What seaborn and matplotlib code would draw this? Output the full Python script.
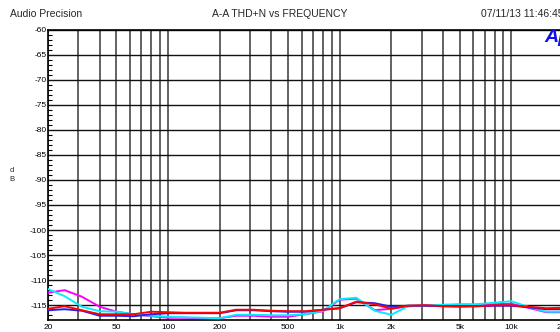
import numpy as np
import pandas as pd
import matplotlib
matplotlib.use("Agg")
import matplotlib.pyplot as plt
from matplotlib.ticker import FixedLocator, NullFormatter, LogLocator
import seaborn as sns

# 1/3-octave sweep frequencies (Hz)
freq = [20, 25, 31.5, 40, 50, 63, 80, 100, 125, 160, 200, 250, 315, 400, 500,
        630, 800, 1000, 1250, 1600, 2000, 2500, 3150, 4000, 5000, 6300, 8000,
        10000, 12500, 16000, 20000]

# THD+N readings (dB) per channel trace
red = [-115.7, -115.2, -116.0, -116.8, -116.8, -116.8, -116.3, -116.4, -116.5, -116.5,
       -116.5, -115.9, -115.9, -116.1, -116.2, -116.2, -115.9, -115.6, -114.3, -114.8,
       -115.7, -115.1, -115.0, -115.2, -115.3, -115.2, -115.0, -115.0, -115.3, -115.6, -115.5]
blue = [-116.0, -115.8, -116.1, -117.1, -117.1, -117.2, -116.8, -116.6, -116.6, -116.6,
        -116.6, -116.0, -116.0, -116.2, -116.3, -116.3, -115.9, -115.6, -114.4, -114.6,
        -115.3, -115.1, -115.1, -115.2, -115.2, -115.2, -115.1, -115.1, -115.4, -115.8, -115.8]
magenta = [-112.5, -112.0, -113.3, -115.3, -116.3, -116.8, -117.2, -117.5, -117.5, -117.6,
           -117.6, -117.1, -117.1, -117.3, -117.3, -116.8, -116.2, -113.9, -113.7, -116.0,
           -115.7, -115.2, -115.1, -115.0, -114.9, -114.9, -114.8, -114.7, -115.5, -116.4, -116.4]
cyan = [-111.75, -113.2, -115.3, -116.2, -116.3, -116.8, -117.1, -117.3, -117.4, -117.5,
        -117.6, -116.9, -116.9, -117.0, -117.0, -116.8, -116.1, -113.8, -113.5, -116.1,
        -116.9, -115.2, -115.1, -114.9, -114.8, -114.8, -114.5, -114.2, -115.3, -116.3, -116.3]

series_names = ["magenta", "cyan", "blue", "red"]
series_values = [magenta, cyan, blue, red]
colors = {"magenta": "#ff00ff", "cyan": "#00f0ff", "blue": "#2020f0", "red": "#ff0000"}

xtick_vals = [20, 50, 100, 200, 500, 1000, 2000, 5000, 10000, 20000]
xtick_labels = ["20", "50", "100", "200", "500", "1k", "2k", "5k", "10k", "20k"]
ytick_vals = list(range(-60, -116, -5))

rows = []
for name, vals in zip(series_names, series_values):
    for f, v in zip(freq, vals):
        rows.append({"freq": f, "level": v, "trace": name})
df = pd.DataFrame(rows)

sns.set_style("white")
plt.rcParams["font.family"] = ["Liberation Sans", "DejaVu Sans"]

fig = plt.figure(figsize=(5.6, 3.32), dpi=100)
ax = fig.add_axes([48 / 560, 1 - 319.5 / 332, (563 - 48) / 560, (319.5 - 29.5) / 332])

sns.lineplot(data=df, x="freq", y="level", hue="trace", hue_order=series_names,
             palette=colors, linewidth=1.4, legend=False, ax=ax, zorder=3)

ax.set_xscale("log")
ax.set_xlim(20, 20000)
ax.set_ylim(-117.85, -60)

# Grid: every 1-9 multiple on the frequency axis, 5 dB steps on the level axis
ax.xaxis.set_major_locator(FixedLocator(xtick_vals))
ax.set_xticklabels(xtick_labels)
ax.xaxis.set_minor_locator(LogLocator(base=10, subs=np.arange(1, 10)))
ax.xaxis.set_minor_formatter(NullFormatter())
ax.set_yticks(ytick_vals)
ax.set_yticklabels([str(v) for v in ytick_vals])
ax.yaxis.set_minor_locator(FixedLocator(np.arange(-60, -118, -1)))

ax.grid(True, which="both", axis="x", color="#383838", linewidth=1.1)
ax.grid(True, which="major", axis="y", color="#111111", linewidth=1.0)

ax.tick_params(axis="x", which="both", length=0, labelsize=6, pad=3, colors="black")
ax.tick_params(axis="y", which="major", direction="in", length=5, width=1,
               labelsize=6, pad=1, colors="black")
ax.tick_params(axis="y", which="minor", direction="in", length=3, width=0.8, colors="black", left=True)

for s in ["left", "bottom", "top"]:
    ax.spines[s].set_visible(True)
    ax.spines[s].set_color("black")
    ax.spines[s].set_linewidth(1.2)
ax.spines["right"].set_visible(False)

ax.set_xlabel("")
ax.set_ylabel("")

fig.text(12 / 560, 1 - 175 / 332, "d\nB", fontsize=5.5, ha="center", va="center", linespacing=1.3)
fig.text(10 / 560, 1 - 14 / 332, "Audio Precision", fontsize=7.5, ha="left", va="center")
fig.text(280 / 560, 1 - 14 / 332, "A-A THD+N vs FREQUENCY", fontsize=7.5, ha="center", va="center")
fig.text(481 / 560, 1 - 14 / 332, "07/11/13 11:46:45", fontsize=7.5, ha="left", va="center")
fig.text(544 / 560, 1 - 37 / 332, "Ap", fontsize=14, fontweight="bold", style="italic",
         color="#1010ee", ha="left", va="center")

fig.savefig("out.png", dpi=100)
